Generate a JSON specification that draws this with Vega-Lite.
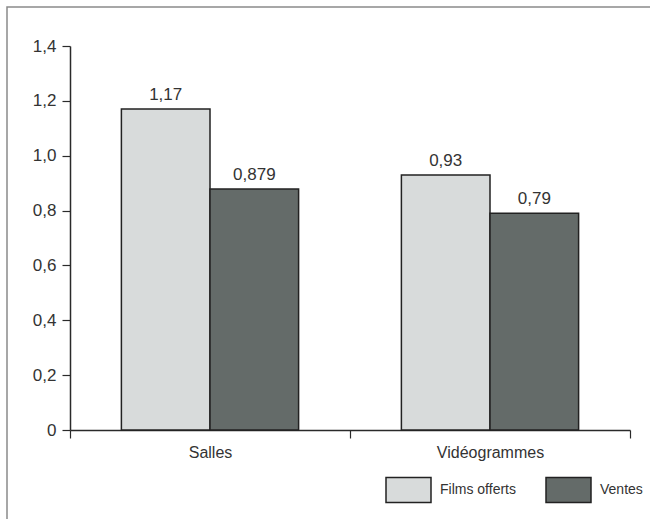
{
  "$schema": "https://vega.github.io/schema/vega-lite/v6.json",
  "width": 645,
  "height": 514,
  "autosize": {"type": "none"},
  "padding": {"left": 7, "top": 7, "right": 0, "bottom": 0},
  "background": "white",
  "config": {
    "font": "Liberation Sans, Arial, sans-serif",
    "view": {"stroke": "#8a8a8a", "strokeWidth": 1.5},
    "locale": {"number": {"decimal": ",", "thousands": " ", "grouping": [3], "currency": ["", " €"]}},
    "axis": {"grid": false, "title": null, "domainColor": "#2a2a2a", "domainWidth": 1.5, "tickColor": "#2a2a2a", "tickWidth": 1.2, "tickSize": 8, "labelColor": "#333333", "labelFontSize": 17, "labelPadding": 6}
  },
  "data": {
    "values": [
      {"cat": "Salles", "serie": "Films offerts", "v": 1.17},
      {"cat": "Salles", "serie": "Ventes", "v": 0.879},
      {"cat": "Vidéogrammes", "serie": "Films offerts", "v": 0.93},
      {"cat": "Vidéogrammes", "serie": "Ventes", "v": 0.79}
    ]
  },
  "encoding": {
    "x": {
      "field": "cat", "type": "nominal", "sort": ["Salles", "Vidéogrammes"],
      "scale": {"range": [63, 623], "paddingInner": 0, "paddingOuter": 0},
      "axis": {"labelAngle": 0, "offset": -91, "tickBand": "extent", "labelFontSize": 16}
    },
    "xOffset": {
      "field": "serie", "type": "nominal", "sort": ["Films offerts", "Ventes"],
      "scale": {"paddingInner": 0, "paddingOuter": 0.58}
    },
    "y": {
      "field": "v", "type": "quantitative",
      "scale": {"domain": [0, 1.4], "range": [423, 39], "nice": false, "zero": true},
      "axis": {"offset": -63, "values": [0, 0.2, 0.4, 0.6, 0.8, 1.0, 1.2, 1.4], "labelExpr": "datum.value == 0 ? '0' : format(datum.value, '.1f')"}
    }
  },
  "layer": [
    {
      "mark": {"type": "bar", "stroke": "#222222", "strokeWidth": 1.5},
      "encoding": {
        "color": {
          "field": "serie", "type": "nominal",
          "scale": {"domain": ["Films offerts", "Ventes"], "range": ["#d8dbdb", "#646b69"]},
          "legend": {
            "title": null, "orient": "none", "legendX": 378, "legendY": 459, "direction": "horizontal",
            "symbolType": "M-1,-0.556H1V0.556H-1Z", "symbolSize": 2025, "symbolStrokeColor": "#222222", "symbolStrokeWidth": 1.5,
            "labelFontSize": 14, "labelColor": "#333333", "labelOffset": 8, "columnPadding": 27, "padding": 0
          }
        }
      }
    },
    {
      "mark": {"type": "text", "baseline": "alphabetic", "dy": -9, "fontSize": 17, "color": "#333333"},
      "encoding": {"text": {"field": "v", "type": "quantitative", "format": ".3~f"}}
    }
  ]
}
